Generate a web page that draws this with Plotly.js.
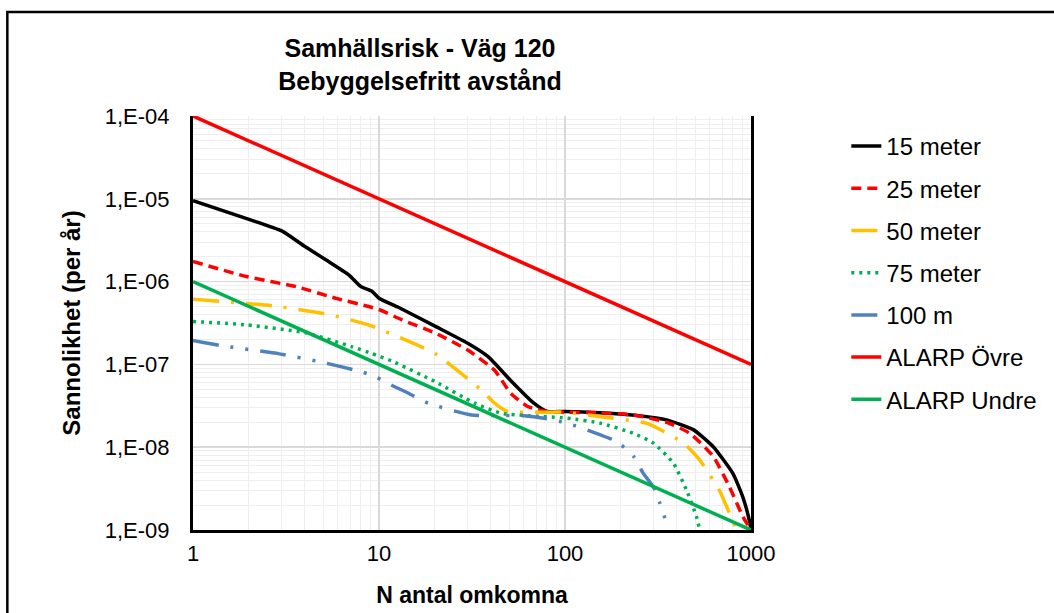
<!DOCTYPE html>
<html>
<head>
<meta charset="utf-8">
<script src="https://cdn.plot.ly/plotly-3.0.1.min.js"></script>
<style>
html,body{margin:0;padding:0;background:#fff;}
#chart{width:1054px;height:613px;}
</style>
</head>
<body>
<div id="chart"></div>
<script>
// ---- data ----
const seriesNames = ["15 meter", "25 meter", "50 meter", "75 meter", "100 m", "ALARP Övre", "ALARP Undre"];

const x15 = [1, 2, 3, 4, 5.2, 6.9, 8, 9.2, 10, 12.7, 20, 30, 38.6, 51, 68, 80, 100, 155, 250, 352, 489, 625, 800, 904, 980, 1000];
const y15 = [9.5e-6, 5.65e-6, 4.1e-6, 2.65e-6, 1.82e-6, 1.2e-6, 8.7e-7, 7.6e-7, 6.3e-7, 4.9e-7, 2.9e-7, 1.8e-7, 1.24e-7, 6.4e-8, 3.4e-8, 2.7e-8, 2.7e-8, 2.6e-8, 2.4e-8, 2.14e-8, 1.63e-8, 1.02e-8, 4.8e-9, 2.5e-9, 1.3e-9, 1.0e-9];

const x25 = [1, 1.94, 3.58, 5.85, 8.8, 10, 13.3, 20, 30, 41.8, 51, 63, 80, 100, 155, 233, 352, 469, 625, 767, 904, 1000];
const y25 = [1.75e-6, 1.15e-6, 8.7e-7, 6.3e-7, 5.0e-7, 4.6e-7, 3.45e-7, 2.4e-7, 1.49e-7, 8.5e-8, 4.5e-8, 3.1e-8, 2.7e-8, 2.65e-8, 2.6e-8, 2.45e-8, 2.0e-8, 1.47e-8, 7.8e-9, 3.3e-9, 1.45e-9, 1.0e-9];

const x50 = [1, 2.68, 5.39, 8.8, 10.8, 20, 35.5, 41.8, 49, 100, 155, 276, 432, 530, 677, 767, 840];
const y50 = [6.1e-7, 5.1e-7, 4.0e-7, 3.0e-7, 2.5e-7, 1.35e-7, 4.9e-8, 3.4e-8, 2.7e-8, 2.65e-8, 2.33e-8, 1.94e-8, 1.13e-8, 7.0e-9, 3.0e-9, 1.58e-9, 1.0e-9];

const x75 = [1, 1.94, 4.05, 7.18, 9.18, 11.7, 20, 32.7, 45.4, 103, 155, 233, 299, 383, 451, 509, 530];
const y75 = [3.3e-7, 3.0e-7, 2.4e-7, 1.63e-7, 1.35e-7, 1.1e-7, 6.2e-8, 3.4e-8, 2.57e-8, 2.24e-8, 1.95e-8, 1.47e-8, 1.12e-8, 6.4e-9, 3.0e-9, 1.45e-9, 1.0e-9];

const x100 = [1, 1.39, 2.91, 4.96, 8.1, 9.56, 11.7, 13.8, 18.4, 31.4, 60, 77, 103, 155, 190, 233, 264, 299, 324, 352];
const y100 = [1.95e-7, 1.7e-7, 1.34e-7, 1.06e-7, 8.1e-8, 7.1e-8, 5.6e-8, 4.7e-8, 3.4e-8, 2.45e-8, 2.4e-8, 2.24e-8, 1.95e-8, 1.41e-8, 1.17e-8, 7.8e-9, 4.8e-9, 3.3e-9, 2.1e-9, 1.2e-9];

const xAlarp = [1, 1000];
const yAlarpOvre = [1e-4, 1e-7];
const yAlarpUndre = [1e-6, 1e-9];

const xTickVals = [1, 10, 100, 1000];
const xTickText = ["1", "10", "100", "1000"];
const yTickVals = [1e-9, 1e-8, 1e-7, 1e-6, 1e-5, 1e-4];
const yTickText = ["1,E-09", "1,E-08", "1,E-07", "1,E-06", "1,E-05", "1,E-04"];

// ---- styles ----
const FONT = "Liberation Sans, Arial, sans-serif";
const W = 3.5;
const styles = [
  {color: "#000000", dash: "solid"},
  {color: "#ff0000", dash: "10px,6px"},
  {color: "#ffc000", dash: "26px,12px,3px,12px"},
  {color: "#00b050", dash: "3px,5px"},
  {color: "#4f81bd", dash: "26px,12px,3px,12px,3px,12px"},
  {color: "#ff0000", dash: "solid"},
  {color: "#00b050", dash: "solid"}
];
const xs = [x15, x25, x50, x75, x100, xAlarp, xAlarp];
const ys = [y15, y25, y50, y75, y100, yAlarpOvre, yAlarpUndre];

const traces = seriesNames.map((n, i) => ({
  type: "scatter", mode: "lines", name: n,
  x: xs[i], y: ys[i],
  legendgroup: "g" + i,
  line: {color: styles[i].color, width: W, dash: styles[i].dash, shape: "spline", smoothing: 0.5},
  hoverinfo: "x+y+name"
}));

const minorX = [];
const minorY = [];
for (let d = 0; d < 3; d++) for (let k = 2; k <= 9; k++) minorX.push(k * Math.pow(10, d));
for (let d = -9; d < -4; d++) for (let k = 2; k <= 9; k++) minorY.push(k * Math.pow(10, d));

const layout = {
  width: 1054, height: 613,
  paper_bgcolor: "#ffffff", plot_bgcolor: "#ffffff",
  margin: {l: 193, r: 299, t: 116, b: 83},
  font: {family: FONT, color: "#000", size: 22},
  title: {
    text: "<b>Samhällsrisk - Väg 120</b><br><b>Bebyggelsefritt avstånd</b>",
    font: {family: FONT, size: 25, color: "#000"},
    xref: "container", yref: "container",
    x: 420 / 1054, xanchor: "center",
    y: 1 - 57 / 613, yanchor: "top"
  },
  xaxis: {
    type: "log", range: [0, 3],
    tickmode: "array", tickvals: xTickVals, ticktext: xTickText,
    ticks: "", ticklabelstandoff: 2,
    tickfont: {family: FONT, size: 22, color: "#000"},
    showgrid: true, gridcolor: "#d9d9d9", gridwidth: 1.5,
    minor: {tickmode: "array", tickvals: minorX, showgrid: true, gridcolor: "#eeeeee", gridwidth: 1, ticks: ""},
    showline: true, linecolor: "#000", linewidth: 3,
    zeroline: false,
    title: {text: "<b>N antal omkomna</b>", font: {family: FONT, size: 23, color: "#000"}, standoff: 22}
  },
  yaxis: {
    type: "log", range: [-9, -4],
    tickmode: "array", tickvals: yTickVals, ticktext: yTickText,
    ticks: "", ticklabelstandoff: 16,
    tickfont: {family: FONT, size: 22, color: "#000"},
    showgrid: true, gridcolor: "#d9d9d9", gridwidth: 1.5,
    minor: {tickmode: "array", tickvals: minorY, showgrid: true, gridcolor: "#eeeeee", gridwidth: 1, ticks: ""},
    showline: true, linecolor: "#000", linewidth: 3, mirror: true,
    zeroline: false,
    title: {text: "<b>Sannolikhet (per år)</b>", font: {family: FONT, size: 24, color: "#000"}, standoff: 18}
  },
  legend: {
    x: (851 - 193) / 562, xanchor: "left",
    y: (530 - 124) / 414, yanchor: "top",
    font: {family: FONT, size: 24, color: "#000"},
    bgcolor: "rgba(0,0,0,0)",
    tracegroupgap: 8,
    traceorder: "grouped"
  },
  shapes: [
    {type: "rect", xref: "paper", yref: "paper",
     x0: (6 - 193) / 562, x1: (1070 - 193) / 562,
     y0: (530 - 630) / 414, y1: (530 - 12) / 414,
     line: {color: "#000", width: 2.5}, fillcolor: "rgba(0,0,0,0)", layer: "below"}
  ],
  showlegend: true
};

Plotly.newPlot("chart", traces, layout, {displayModeBar: false, staticPlot: true});
</script>
</body>
</html>
